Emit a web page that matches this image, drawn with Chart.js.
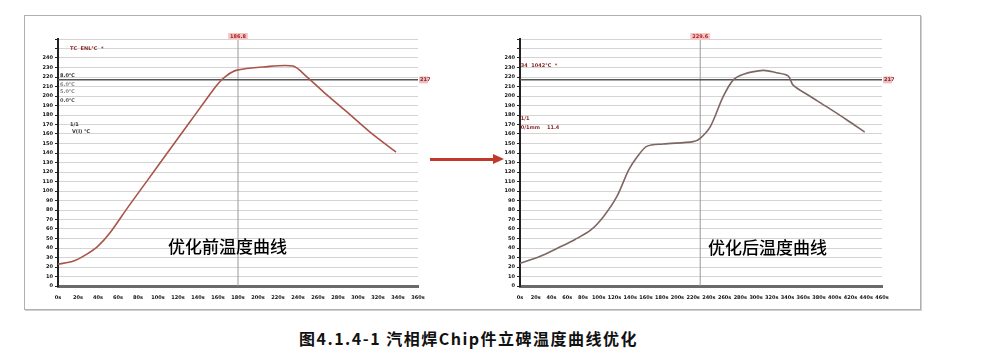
<!DOCTYPE html>
<html>
<head>
<meta charset="utf-8">
<script src="https://cdn.jsdelivr.net/npm/chart.js@4"></script>
<style>
  body { margin: 0; background: #fff; width: 983px; height: 361px; position: relative; overflow: hidden; }
  #frame { position: absolute; left: 24px; top: 15px; width: 895px; height: 293px; border: 1px solid #b0b0b0; box-shadow: 1px 1px 0 #d0d0d0; }
  .box { position: absolute; top: 20px; height: 285px; }
  .title { position: absolute; font-family: "Noto Sans CJK SC", sans-serif; font-size: 17px; color: #000; font-weight: 500; }
  #caption { position: absolute; left: 299px; top: 326px; font-family: "Noto Sans CJK SC", "Liberation Serif", serif; font-size: 16px; letter-spacing: 1.5px; font-weight: bold; color: #111; }
  #arrow { position: absolute; left: 430px; top: 158px; width: 64px; height: 3px; background: #c0392b; }
  #arrowhead { position: absolute; left: 493px; top: 154px; width: 0; height: 0; border-top: 5.5px solid transparent; border-bottom: 5.5px solid transparent; border-left: 11px solid #c0392b; }
</style>
</head>
<body>
<div id="frame"></div>
<div class="box" style="left:20px;width:420px"><canvas id="before" width="420" height="285"></canvas></div>
<div class="box" style="left:480px;width:425px"><canvas id="after" width="425" height="285"></canvas></div>
<div id="arrow"></div><div id="arrowhead"></div>
<div class="title" style="left:168px;top:233px">优化前温度曲线</div>
<div class="title" style="left:708px;top:234px">优化后温度曲线</div>
<div id="caption">图4.1.4-1 汽相焊Chip件立碑温度曲线优化</div>
<script>
// profile before optimisation (time s, temp C)
var beforeTime = [0, 15, 28, 40, 52, 70, 90, 110, 130, 148, 160, 168, 178, 205, 235, 248, 268, 288, 312, 338];
var beforeTemp = [23, 26, 33, 42, 56, 83, 112, 141, 170, 196, 213, 221, 227, 230.5, 231.5, 221, 202, 184, 162, 141];

// profile after optimisation
var afterTime = [0, 25, 48, 70, 90, 106, 123, 138, 149, 161, 182, 220, 229, 242, 258, 271, 284, 309, 326, 341, 347, 368, 389, 415, 438];
var afterTemp = [24, 31, 40, 49, 59, 73, 94, 122, 136, 147, 149.5, 152, 155.5, 168, 199, 217, 223, 227, 224.5, 221, 211.5, 200, 189, 175, 162];

var liquidus = 217;
var beforeMarker = 180, beforeMarkerLabel = '186.8';
var afterMarker = 229, afterMarkerLabel = '229.6';
var yTicks = {min: 0, max: 260, step: 10, top: 240};

var beforeNotes = [
  {x: 12, y: 250, t: 'TC  ENL℃  *', c: '#8a2a2a'},
  {x: 2, y: 221, t: '8.0℃', c: '#333'},
  {x: 2, y: 212, t: '6.0℃', c: '#888'},
  {x: 2, y: 204, t: '5.0℃', c: '#888'},
  {x: 2, y: 195, t: '0.0℃', c: '#555'},
  {x: 12, y: 170, t: '1/1', c: '#333'},
  {x: 14, y: 162, t: 'V(I) ℃', c: '#333'}
];
var afterNotes = [
  {x: 1, y: 232, t: '34  1042℃  *', c: '#8a2a2a'},
  {x: 1, y: 176, t: '1/1', c: '#8a2a2a'},
  {x: 1, y: 167, t: '0/1mm    11.4', c: '#8a2a2a'}
];

function pts(xs, ys) {
  return xs.map(function (x, i) { return {x: x, y: ys[i]}; });
}

// marker lines and small labels
var markerPlugin = {
  id: 'markers',
  afterDatasetsDraw: function (chart, args, opts) {
    var ctx = chart.ctx, xs = chart.scales.x, ys = chart.scales.y;
    ctx.save();
    ctx.font = 'bold 5px "DejaVu Sans"';
    ctx.textBaseline = 'middle';
    // top label of vertical marker
    var mx = xs.getPixelForValue(opts.marker);
    var w = ctx.measureText(opts.markerLabel).width + 4;
    ctx.fillStyle = '#f3c8c8';
    ctx.fillRect(mx - w / 2, ys.top - 6, w, 7);
    ctx.fillStyle = '#b02020';
    ctx.textAlign = 'center';
    ctx.fillText(opts.markerLabel, mx, ys.top - 2.5);
    // right label of liquidus line
    var ly = ys.getPixelForValue(liquidus);
    ctx.fillStyle = '#e9c0c0';
    ctx.fillRect(xs.right + 1, ly - 3.5, 9, 7);
    ctx.fillStyle = '#9a2020';
    ctx.textAlign = 'left';
    ctx.fillText(String(liquidus), xs.right + 2, ly);
    // notes
    opts.notes.forEach(function (n) {
      ctx.fillStyle = n.c;
      ctx.fillText(n.t, xs.getPixelForValue(n.x), ys.getPixelForValue(n.y));
    });
    ctx.restore();
  }
};

function makeChart(id, time, temp, xmax, marker, markerLabel, notes, lineColor, padL, padR) {
  return new Chart(document.getElementById(id), {
    type: 'line',
    data: {
      datasets: [{
        data: pts(time, temp),
        borderColor: lineColor,
        borderWidth: 1.6,
        pointRadius: 0,
        tension: 0.3,
        order: 1
      }, {
        data: [{x: 0, y: liquidus}, {x: xmax, y: liquidus}],
        borderColor: '#555',
        borderWidth: 1.5,
        pointRadius: 0,
        order: 2
      }, {
        data: [{x: marker, y: 0}, {x: marker, y: yTicks.max}],
        borderColor: '#9a9a9a',
        borderWidth: 1,
        pointRadius: 0,
        order: 3
      }]
    },
    options: {
      responsive: false,
      animation: false,
      layout: {padding: {left: 0, right: padR, top: 19, bottom: 0}},
      plugins: {
        legend: {display: false},
        tooltip: {enabled: false},
        markers: {marker: marker, markerLabel: markerLabel, notes: notes}
      },
      scales: {
        x: {
          type: 'linear',
          min: 0,
          max: xmax,
          afterFit: function (s) { s.height = 19; },
          border: {color: '#6a6a6a', width: 3},
          grid: {display: false, drawTicks: true},
          ticks: {
            stepSize: 20,
            autoSkip: false,
            maxRotation: 0,
            padding: 1,
            color: '#111',
            font: {size: 5, weight: 'bold', family: 'DejaVu Sans'},
            callback: function (v) { return v + 's'; }
          }
        },
        y: {
          min: yTicks.min,
          max: yTicks.max,
          afterFit: function (s) { s.width = padL; },
          border: {color: '#222', width: 2},
          grid: {
            color: '#d4d4d4',
            lineWidth: 1,
            tickColor: '#222',
            tickLength: 3
          },
          ticks: {
            stepSize: yTicks.step,
            autoSkip: false,
            padding: 2,
            color: '#111',
            font: {size: 5, weight: 'bold', family: 'DejaVu Sans'},
            callback: function (v) { return v <= yTicks.top ? v : ''; }
          }
        }
      }
    },
    plugins: [markerPlugin]
  });
}

makeChart('before', beforeTime, beforeTemp, 360, beforeMarker, beforeMarkerLabel, beforeNotes, '#a9544a', 38, 22);
makeChart('after', afterTime, afterTemp, 460, afterMarker, afterMarkerLabel, afterNotes, '#7e6762', 40, 23);
</script>
</body>
</html>
